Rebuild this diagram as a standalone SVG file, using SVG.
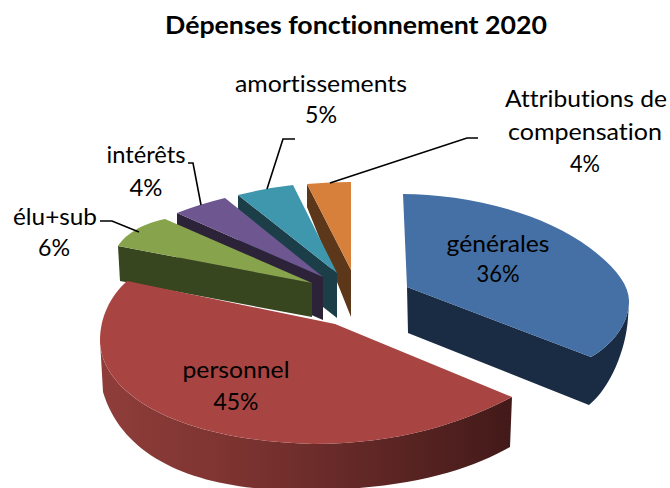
<svg xmlns="http://www.w3.org/2000/svg" width="670" height="488" viewBox="0 0 670 488">
  <defs>
    <style>
      .t { font-family: Lato, "Liberation Sans", sans-serif; font-size: 24px; fill: #000; text-anchor: middle; font-variant-ligatures: none; font-feature-settings: "liga" 0, "clig" 0; }
      .title { font-family: Lato, "Liberation Sans", sans-serif; font-size: 24px; font-weight: bold; fill: #000; text-anchor: middle; font-variant-ligatures: none; font-feature-settings: "liga" 0, "clig" 0; }
      .lead { fill: none; stroke: #000; stroke-width: 1.6; stroke-linejoin: miter; }
    </style>
    <linearGradient id="redSide" gradientUnits="userSpaceOnUse" x1="100" y1="0" x2="512" y2="0">
      <stop offset="0" stop-color="#8f3d3a"/>
      <stop offset="0.35" stop-color="#7b3330"/>
      <stop offset="1" stop-color="#421a19"/>
    </linearGradient>
  </defs>
  <rect width="670" height="488" fill="#fff"/>

  <text class="title" x="356" y="34" textLength="382" lengthAdjust="spacingAndGlyphs">Dépenses fonctionnement 2020</text>

  <g id="attributions">
    <path d="M307,184 L351,270 L351,317 L307,207 Z" fill="#5c3719"/>
    <path d="M307,184 Q330,182 351,182 L351,270 Z" fill="#d7803b"/>
    <text class="t" x="586" y="107" textLength="162" lengthAdjust="spacingAndGlyphs">Attributions de</text>
    <text class="t" x="585" y="140" textLength="154" lengthAdjust="spacingAndGlyphs">compensation</text>
    <text class="t" x="585" y="172" textLength="30" lengthAdjust="spacingAndGlyphs">4%</text>
  </g>

  <g id="amortissements">
    <path d="M238,195 L337,273 L337,318 L238,240 Z" fill="#1c3e48"/>
    <path d="M238,195 Q266,188 293,185 L337,273 Z" fill="#3f97ae"/>
    <text class="t" x="321" y="92" textLength="172" lengthAdjust="spacingAndGlyphs">amortissements</text>
    <text class="t" x="321" y="123" textLength="32" lengthAdjust="spacingAndGlyphs">5%</text>
  </g>

  <g id="interets">
    <path d="M177,213 L323,277 L323,320 L177,257 Z" fill="#2c2339"/>
    <path d="M177,213 Q200,204 225,198 L323,277 Z" fill="#6e5690"/>
    <text class="t" x="146" y="163" textLength="79" lengthAdjust="spacingAndGlyphs">intérêts</text>
    <text class="t" x="146" y="196" textLength="33" lengthAdjust="spacingAndGlyphs">4%</text>
  </g>

  <g id="elu-sub">
    <path d="M118,246 L312,283 L312,317 L120,281 Z" fill="#38461f"/>
    <path d="M118,246 C124,236 140,224 165,219 L312,283 Z" fill="#87a34b"/>
    <text class="t" x="55" y="225" textLength="84" lengthAdjust="spacingAndGlyphs">élu+sub</text>
    <text class="t" x="54" y="256" textLength="32" lengthAdjust="spacingAndGlyphs">6%</text>
  </g>

  <g id="personnel">
    <path d="M100,340 C100,390 170,440 313,444 C400,444 465,422 512,397 L510,447 C470,470 410,488 320,490 C210,494 125,465 103,392 Z" fill="url(#redSide)"/>
    <path d="M127,281 C110,296 100,318 100,340 C100,390 170,440 313,444 C400,444 465,422 512,397 L335,324 Z" fill="#a84442"/>
    <text class="t" x="236" y="378" textLength="107" lengthAdjust="spacingAndGlyphs">personnel</text>
    <text class="t" x="236" y="410" textLength="45" lengthAdjust="spacingAndGlyphs">45%</text>
  </g>

  <g id="generales">
    <path d="M407,287 L591,357 C612,345 628,325 629,303 L628,318 C626,350 610,388 589,405 L408,333 Z" fill="#1a2b44"/>
    <path d="M407,287 L403,194 C460,194 540,210 590,248 C615,267 630,285 629,303 C628,325 612,345 591,357 Z" fill="#4570a6"/>
    <text class="t" x="498" y="252" textLength="103" lengthAdjust="spacingAndGlyphs">générales</text>
    <text class="t" x="498" y="282" textLength="43" lengthAdjust="spacingAndGlyphs">36%</text>
  </g>

  <g id="connectors">
    <polyline class="lead" points="100,221 112,221 139,232"/>
    <polyline class="lead" points="188,163 193,163 201,205"/>
    <polyline class="lead" points="295,139 283,139 267,189"/>
    <polyline class="lead" points="478,138 467,138 330,183"/>
  </g>
</svg>
